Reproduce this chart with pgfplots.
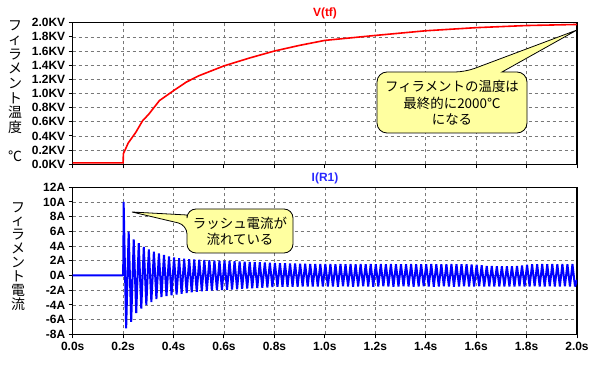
\documentclass[border=0pt]{standalone}
\usepackage{fontspec}
\setmainfont{Liberation Sans}
\newfontfamily\cjk{Noto Sans CJK JP}
\usepackage{pgfplots}
\pgfplotsset{compat=1.18}
\definecolor{callout}{RGB}{255,255,160}
\definecolor{gridgray}{RGB}{120,120,120}
\definecolor{ltred}{RGB}{255,0,0}
\definecolor{ltblue}{RGB}{0,0,255}
\definecolor{titleblue}{RGB}{40,40,255}
\pgfplotsset{ltstyle/.style={
  scale only axis, width=504.3bp,
  xmin=0, xmax=2,
  grid=major,
  major grid style={gridgray, dash pattern=on 3bp off 3bp, line width=0.7bp},
  axis line style={line width=1.5bp},
  tick align=outside, major tick length=4bp,
  tick style={black, line width=1bp},
  xtick pos=bottom, ytick pos=left,
  ticklabel style={font=\fontsize{12}{12}\selectfont\bfseries},
  xtick={0,0.2,0.4,0.6,0.8,1.0,1.2,1.4,1.6,1.8,2.0},
}}
\begin{document}
\begin{tikzpicture}
\path[use as bounding box] (0,0) rectangle (595bp,365bp);
% ---------- top panel ----------
\begin{axis}[ltstyle, at={(72.7bp,200.7bp)}, anchor=south west, height=141.6bp,
  ymin=0, ymax=2.0,
  xticklabels={},
  ytick={0,0.2,0.4,0.6,0.8,1.0,1.2,1.4,1.6,1.8,2.0},
  yticklabels={0.0KV,0.2KV,0.4KV,0.6KV,0.8KV,1.0KV,1.2KV,1.4KV,1.6KV,1.8KV,2.0KV}]
\addplot[ltred, line width=1.6bp] coordinates {
(0,0.02) (0.2,0.02) (0.201,0.15) (0.21,0.22) (0.22,0.30) (0.238,0.39) (0.25,0.45)
(0.278,0.62) (0.3,0.70) (0.344,0.90) (0.4,1.04) (0.45,1.16) (0.5,1.25) (0.6,1.39)
(0.7,1.50) (0.8,1.60) (0.9,1.68) (1.0,1.75) (1.2,1.82) (1.4,1.886) (1.6,1.93)
(1.8,1.96) (2.0,1.975)};
\end{axis}
% ---------- bottom panel ----------
\begin{axis}[ltstyle, at={(72.7bp,30.7bp)}, anchor=south west, height=147bp,
  ymin=-8, ymax=12,
  xticklabels={0.0s,0.2s,0.4s,0.6s,0.8s,1.0s,1.2s,1.4s,1.6s,1.8s,2.0s},
  ytick={-8,-6,-4,-2,0,2,4,6,8,10,12},
  yticklabels={-8A,-6A,-4A,-2A,0A,2A,4A,6A,8A,10A,12A}]
\addplot[ltblue, line width=2bp, line join=bevel] coordinates {
(0,0) (0.2,0) (0.2,1.5) (0.201,1.5)
(0.202,10.0) (0.212,-7.2) (0.222,5.96) (0.232,-6.3) (0.242,4.9) (0.252,-5.1)
(0.262,4.4) (0.272,-4.5) (0.282,3.9) (0.292,-4.0) (0.302,3.55) (0.312,-3.6)
(0.322,3.25) (0.332,-3.2) (0.342,3.0) (0.352,-2.95) (0.362,2.8) (0.372,-2.8)
(0.382,2.6) (0.392,-2.7) (0.402,2.45) (0.412,-2.6) (0.422,2.35) (0.432,-2.5)
(0.442,2.28) (0.452,-2.4) (0.462,2.22) (0.472,-2.3) (0.482,2.18) (0.492,-2.22)
(0.502,2.14) (0.512,-2.15) (0.522,2.1) (0.532,-2.08) (0.542,2.07) (0.552,-2.03)
(0.562,2.04) (0.572,-2.0) (0.582,2.02) (0.592,-1.97) (0.602,2.0) (0.612,-1.95)
(0.622,1.97) (0.632,-1.9) (0.642,1.94) (0.652,-1.86) (0.662,1.91) (0.672,-1.82)
(0.682,1.88) (0.692,-1.78) (0.702,1.85) (0.712,-1.74) (0.722,1.82) (0.732,-1.7)
(0.742,1.79) (0.752,-1.66) (0.762,1.76) (0.772,-1.62) (0.782,1.73) (0.792,-1.58)
(0.802,1.70) (0.812,-1.55) (0.822,1.68) (0.832,-1.54) (0.842,1.66) (0.852,-1.53)
(0.862,1.64) (0.872,-1.52) (0.882,1.62) (0.892,-1.52) (0.902,1.60) (0.912,-1.51)
(0.922,1.60) (0.932,-1.51) (0.942,1.58) (0.952,-1.5) (0.962,1.58) (0.972,-1.5)
(0.982,1.56) (0.992,-1.5) (1.002,1.56) (1.012,-1.5)
(1.022,1.55) (1.032,-1.5) (1.042,1.52) (1.052,-1.52) (1.062,1.55) (1.072,-1.48)
(1.082,1.53) (1.092,-1.5) (1.102,1.55) (1.112,-1.52) (1.122,1.52) (1.132,-1.5)
(1.142,1.55) (1.152,-1.48) (1.162,1.53) (1.172,-1.5) (1.182,1.55) (1.192,-1.52)
(1.202,1.52) (1.212,-1.5) (1.222,1.55) (1.232,-1.48) (1.242,1.53) (1.252,-1.5)
(1.262,1.55) (1.272,-1.52) (1.282,1.52) (1.292,-1.5) (1.302,1.54) (1.312,-1.48)
(1.322,1.52) (1.332,-1.5) (1.342,1.55) (1.352,-1.52) (1.362,1.53) (1.372,-1.5)
(1.382,1.54) (1.392,-1.48) (1.402,1.52) (1.412,-1.5) (1.422,1.55) (1.432,-1.52)
(1.442,1.53) (1.452,-1.5) (1.462,1.54) (1.472,-1.48) (1.482,1.52) (1.492,-1.5)
(1.502,1.55) (1.512,-1.52) (1.522,1.53) (1.532,-1.5) (1.542,1.54) (1.552,-1.48)
(1.562,1.52) (1.572,-1.5) (1.582,1.5) (1.592,-1.5) (1.602,1.45) (1.612,-1.48)
(1.622,1.4) (1.632,-1.5) (1.642,1.3) (1.652,-1.48) (1.662,1.28) (1.672,-1.5)
(1.682,1.25) (1.692,-1.5) (1.702,1.25) (1.712,-1.48) (1.722,1.25) (1.732,-1.5)
(1.742,1.27) (1.752,-1.5) (1.762,1.3) (1.772,-1.48) (1.782,1.35) (1.792,-1.5)
(1.802,1.45) (1.812,-1.5) (1.822,1.52) (1.832,-1.48) (1.842,1.54) (1.852,-1.5)
(1.862,1.55) (1.872,-1.5) (1.882,1.53) (1.892,-1.48) (1.902,1.55) (1.912,-1.5)
(1.922,1.53) (1.932,-1.5) (1.942,1.55) (1.952,-1.48) (1.962,1.54) (1.972,-1.5)
(1.982,1.55) (1.992,-1.5) (2.0,-0.6)};
\end{axis}
% ---------- titles ----------
\node[text=ltred, font=\fontsize{12}{12}\selectfont\bfseries] at (325bp,352bp) {V(tf)};
\node[text=titleblue, font=\fontsize{12}{12}\selectfont\bfseries] at (325bp,187bp) {I(R1)};
% ---------- vertical y labels ----------
\node[anchor=north, align=center, inner sep=0pt, font=\cjk\fontsize{14}{14.7}\selectfont]
  at (15bp,345bp) {フ\\ィ\\ラ\\メ\\ン\\ト\\温\\度\\[14.7bp]℃};
\node[anchor=north, align=center, inner sep=0pt, font=\cjk\fontsize{14}{14}\selectfont]
  at (18bp,163bp) {フ\\ィ\\ラ\\メ\\ン\\ト\\電\\流};
% ---------- callouts ----------
\draw[fill=callout, line width=0.8bp]
  (377bp,262bp) [rounded corners=10bp] -- (377bp,293bp) -- (465bp,293bp)
  [sharp corners] -- (577bp,335bp) -- (502bp,293bp)
  [rounded corners=10bp] -- (527bp,293bp) -- (527bp,232bp) -- (377bp,232bp) -- cycle;
\node[align=center, font=\cjk\fontsize{13.5}{16.5}\selectfont] at (452bp,262bp)
  {フィラメントの温度は\\最終的に2000℃\\になる};
\draw[fill=callout, line width=0.8bp]
  (240bp,156bp) [rounded corners=9bp] -- (293bp,156bp) -- (293bp,112bp) -- (187bp,112bp) -- (187bp,140bp)
  [sharp corners] -- (132bp,153bp) -- (187bp,150bp)
  [rounded corners=9bp] -- (187bp,156bp) -- cycle;
\node[align=center, font=\cjk\fontsize{13.5}{16}\selectfont] at (240bp,134bp)
  {ラッシュ電流が\\流れている};
\end{tikzpicture}
\end{document}
